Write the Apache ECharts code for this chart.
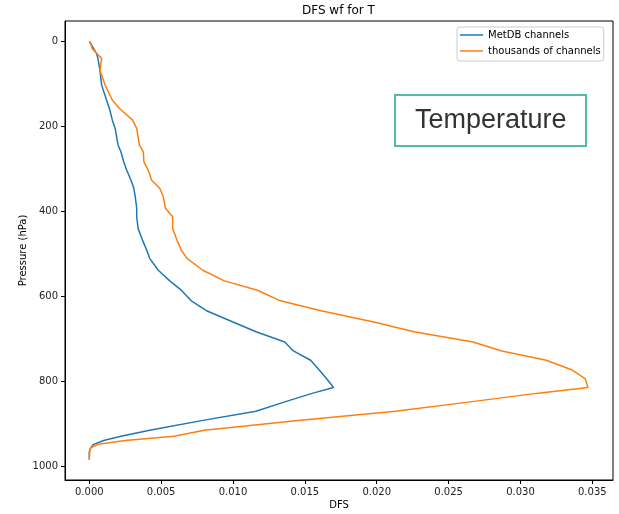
<!DOCTYPE html>
<html>
<head>
<meta charset="utf-8">
<script src="https://cdn.jsdelivr.net/npm/echarts@6/dist/echarts.min.js"></script>
<style>
html,body{margin:0;padding:0;background:#fff;}
#chart{width:619px;height:514px;}
</style>
</head>
<body>
<div id="chart"></div>
<script>
// Shared pressure levels (hPa)
const pressureLevels = [0, 5, 17, 28, 40, 68, 103, 138, 158, 185, 205, 244, 260, 284, 303, 327, 346, 366, 393, 413, 441, 468, 492, 511, 539, 564, 586, 611, 635, 661, 684, 708, 729, 751, 774, 794, 815, 829, 849, 871, 892, 916, 930, 940, 949, 957, 967, 985];
// DFS for MetDB channels
const metdbDFS = [0, 0.0001, 0.0003, 0.0005, 0.0006, 0.00074, 0.00086, 0.0012, 0.0014, 0.0016, 0.0018, 0.0020, 0.0022, 0.0024, 0.0026, 0.0029, 0.0031, 0.0032, 0.0033, 0.0033, 0.0034, 0.0037, 0.0040, 0.0042, 0.0048, 0.0056, 0.0064, 0.0071, 0.0082, 0.0100, 0.0116, 0.0136, 0.0142, 0.0154, 0.0160, 0.0165, 0.0170, 0.0155, 0.0136, 0.0116, 0.0080, 0.0042, 0.0022, 0.0010, 0.0003, 0.0001, 0, 0];
// DFS for thousands of channels
const thousandsDFS = [0, 0.0001, 0.0002, 0.0005, 0.00086, 0.00074, 0.0011, 0.0016, 0.0021, 0.0030, 0.0033, 0.00348, 0.00376, 0.0038, 0.0041, 0.00434, 0.0049, 0.00515, 0.0053, 0.0058, 0.0058, 0.0061, 0.0064, 0.0068, 0.0079, 0.0094, 0.0117, 0.0133, 0.0162, 0.0198, 0.0226, 0.0267, 0.0287, 0.0318, 0.0336, 0.0345, 0.0347, 0.0311, 0.0265, 0.0213, 0.0147, 0.0080, 0.0059, 0.0025, 0.0006, 0.0001, 0.00003, 0];
const seriesNames = ['MetDB channels', 'thousands of channels'];

const pairs = (vals) => vals.map((v, i) => [v, pressureLevels[i]]);
const FONT = 'DejaVu Sans';
const chart = echarts.init(document.getElementById('chart'), null, {renderer: 'canvas'});
chart.setOption({
  animation: false,
  backgroundColor: '#fff',
  title: [
    {text: 'DFS wf for T', left: 302, top: 5, padding: 0,
     textStyle: {fontFamily: FONT, fontSize: 12, fontWeight: 'normal', color: '#000'}},
    {text: 'Temperature', left: 395, top: 95, padding: [10, 20, 10, 20],
     borderColor: '#55b9a6', borderWidth: 2, backgroundColor: '#fff',
     textStyle: {fontFamily: 'Liberation Sans', fontSize: 27, fontWeight: 'normal', color: '#333', lineHeight: 31}}
  ],
  legend: {
    orient: 'vertical', left: 457, top: 27,
    padding: [2, 3, 4, 3], itemGap: 4, itemWidth: 23, itemHeight: 1.5, icon: 'rect',
    backgroundColor: 'rgba(255,255,255,0.8)', borderColor: '#ccc', borderWidth: 1, borderRadius: 3,
    textStyle: {fontFamily: FONT, fontSize: 10, color: '#000', lineHeight: 12},
    data: seriesNames
  },
  grid: {left: 65, top: 21, right: 6, bottom: 34, show: true, borderColor: '#000', borderWidth: 1,
         containLabel: false, outerBoundsMode: 'none'},
  xAxis: {
    type: 'value', min: -0.00169, max: 0.03644, splitNumber: 7,
    name: 'DFS', nameLocation: 'middle', nameGap: 20, nameMoveOverlap: false,
    nameTextStyle: {fontFamily: FONT, fontSize: 10, color: '#000'},
    axisLine: {show: true, onZero: false, lineStyle: {color: '#000'}},
    axisTick: {show: true, length: 4, lineStyle: {color: '#000'}},
    splitLine: {show: false},
    axisLabel: {fontFamily: FONT, fontSize: 10, color: '#222', margin: 7,
      showMinLabel: false, showMaxLabel: false,
      formatter: (v) => v.toFixed(3)}
  },
  yAxis: {
    type: 'value', min: -48, max: 1033, inverse: true, splitNumber: 5,
    name: 'Pressure (hPa)', nameLocation: 'middle', nameGap: 37, nameMoveOverlap: false,
    nameTextStyle: {fontFamily: FONT, fontSize: 10, color: '#000'},
    axisLine: {show: true, onZero: false, lineStyle: {color: '#000'}},
    axisTick: {show: true, length: 4, lineStyle: {color: '#000'}},
    splitLine: {show: false},
    axisLabel: {fontFamily: FONT, fontSize: 10, color: '#222', margin: 7,
      showMinLabel: false, showMaxLabel: false,
      formatter: (v) => String(v)}
  },
  series: [
    {name: seriesNames[0], type: 'line', data: pairs(metdbDFS), showSymbol: false, symbol: 'none',
     color: '#1f77b4', lineStyle: {width: 1.5, color: '#1f77b4'}},
    {name: seriesNames[1], type: 'line', data: pairs(thousandsDFS), showSymbol: false, symbol: 'none',
     color: '#ff7f0e', lineStyle: {width: 1.5, color: '#ff7f0e'}}
  ]
});
</script>
</body>
</html>
